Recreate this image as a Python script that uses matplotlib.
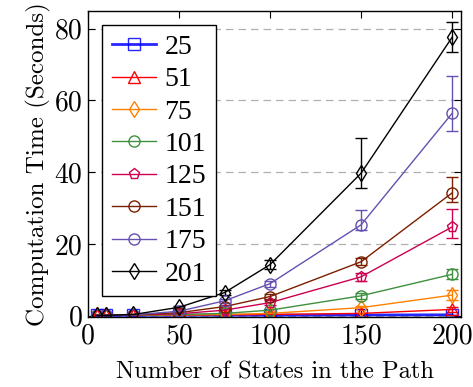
import matplotlib
matplotlib.use("Agg")
import matplotlib.pyplot as plt

# number of states in the path
x = [5, 10, 25, 50, 75, 100, 150, 200]

# computation time (s) for each series
t25 = [0.05, 0.05, 0.05, 0.1, 0.1, 0.1, 0.15, 0.2]
t51 = [0.05, 0.05, 0.1, 0.15, 0.2, 0.3, 0.6, 1.7]
t75 = [0.05, 0.05, 0.1, 0.2, 0.3, 0.6, 2.2, 5.7]
t101 = [0.05, 0.05, 0.1, 0.3, 0.6, 1.5, 5.5, 11.5]
t125 = [0.05, 0.05, 0.15, 0.5, 1.5, 3.6, 10.8, 24.7]
t151 = [0.05, 0.05, 0.2, 0.8, 2.5, 5.3, 15.0, 34.2]
t175 = [0.05, 0.05, 0.2, 1.2, 4.1, 8.9, 25.3, 56.4]
t201 = [0.05, 0.05, 0.3, 2.3, 6.4, 14.2, 39.7, 77.6]

# error bars (lower, upper)
e25 = ([0, 0, 0, 0, 0, 0, 0, 0], [0, 0, 0, 0, 0, 0, 0, 0])
e51 = ([0, 0, 0, 0, 0, 0.1, 0.2, 0.6], [0, 0, 0, 0, 0, 0.1, 0.2, 0.6])
e75 = ([0, 0, 0, 0, 0.1, 0.2, 0.5, 1.4], [0, 0, 0, 0, 0.1, 0.2, 0.5, 1.4])
e101 = ([0, 0, 0, 0.1, 0.2, 0.4, 0.8, 1.4], [0, 0, 0, 0.1, 0.2, 0.4, 0.8, 1.4])
e125 = ([0, 0, 0, 0.2, 0.4, 0.6, 1.2, 3.1], [0, 0, 0, 0.2, 0.4, 0.6, 1.2, 5.0])
e151 = ([0, 0, 0, 0.2, 0.5, 0.8, 1.0, 2.5], [0, 0, 0, 0.2, 0.5, 0.8, 1.0, 4.4])
e175 = ([0, 0, 0, 0.2, 0.5, 0.8, 1.3, 5.0], [0, 0, 0, 0.2, 0.5, 0.8, 4.2, 10.3])
e201 = ([0, 0, 0, 0.3, 0.6, 1.3, 4.1, 4.0], [0, 0, 0, 0.3, 0.6, 1.3, 9.7, 4.3])

labels = ["25", "51", "75", "101", "125", "151", "175", "201"]
series = [t25, t51, t75, t101, t125, t151, t175, t201]
errors = [e25, e51, e75, e101, e125, e151, e175, e201]
colors = ["#0000ff", "#ff0000", "#ff8000", "#3f8f3f", "#cc0050", "#7a1f00", "#6650b0", "#000000"]
markers = ["s", "^", "d", "o", "p", "o", "o", "d"]

plt.rcParams["font.family"] = "cmr10"
plt.rcParams["mathtext.fontset"] = "cm"
plt.rcParams["axes.unicode_minus"] = False

fig, ax = plt.subplots(figsize=(4.73, 3.87), dpi=100)

handles = []
for y, e, lab, c, m in zip(series, errors, labels, colors, markers):
    lw = 2.0 if lab == "25" else 1.0
    cont = ax.errorbar(x, y, yerr=e, color=c, marker=m, markersize=8, markerfacecolor="none",
                       markeredgecolor=c, markeredgewidth=1.0, lw=lw, capsize=4, elinewidth=1.0,
                       label=lab, alpha=0.85 if lab == "25" else 1.0)
    handles.append(cont.lines[0])

ax.set_xlim(0, 205)
ax.set_ylim(-0.5, 85)
ax.set_xticks([0, 50, 100, 150, 200])
ax.set_yticks([0, 20, 40, 60, 80])
ax.yaxis.grid(True, linestyle=(0, (6, 4)), color="#b0b0b0", lw=0.9)
ax.set_axisbelow(True)
ax.tick_params(direction="in", top=True, right=True, labelsize=20, length=5, pad=4)
for s in ax.spines.values():
    s.set_linewidth(1.0)

ax.set_xlabel("Number of States in the Path", fontsize=17.6, labelpad=9)
ax.set_ylabel("Computation Time (Seconds)", fontsize=18, labelpad=3)

leg = ax.legend(handles=handles, labels=labels, loc="upper left",
                prop={"family": "Liberation Serif", "size": 20},
                frameon=True, fancybox=False, edgecolor="black", framealpha=1,
                handlelength=1.6, labelspacing=0.25, borderpad=0.35, handletextpad=0.3,
                borderaxespad=0.5)
leg.get_frame().set_linewidth(1.0)

fig.subplots_adjust(left=0.186, right=0.975, top=0.972, bottom=0.18)
fig.savefig("out.png", dpi=100)
